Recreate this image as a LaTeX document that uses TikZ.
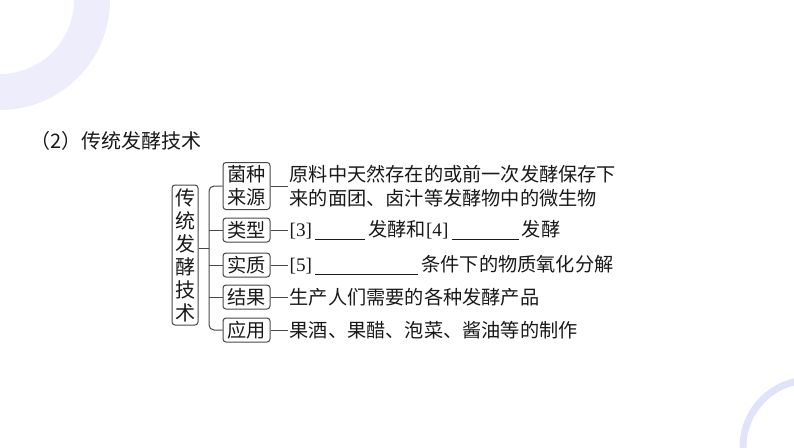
\documentclass[tikz,border=0pt]{standalone}
\usepackage{fontspec}
\setmainfont{Noto Sans CJK SC}
\newfontfamily\latf{Liberation Serif}
\definecolor{ringA}{RGB}{237,237,251}
\definecolor{ringB}{RGB}{224,227,249}
\definecolor{linec}{RGB}{70,70,70}
\definecolor{txt}{RGB}{25,25,25}
\newcommand\fillin[1]{\rule[-3pt]{#1}{0.9pt}}
\begin{document}
\begin{tikzpicture}[x=1pt,y=-1pt,
  box/.style={draw=linec,line width=1pt,rounded corners=3pt,inner sep=0pt,
    minimum width=47pt,minimum height=24pt,align=center,text=txt,
    font=\fontsize{19.2}{23}\selectfont},
  conn/.style={draw=linec,line width=1pt},
  rowtxt/.style={anchor=west,inner xsep=2pt,inner ysep=0pt,align=left,text=txt,
    font=\fontsize{19.2}{24}\selectfont}]
\useasboundingbox (0,0) rectangle (794,447);
\begin{scope}
  \clip (0,0) rectangle (794,447);
  \fill[ringA,even odd rule] (0,0) circle[radius=110pt] (0,0) circle[radius=74pt];
  \draw[ringB,line width=7pt] (810,447) circle[radius=67pt];
\end{scope}
\node[anchor=west,inner sep=0pt,text=txt,font=\fontsize{20}{24}\selectfont] (title) at (30,141) {（2）传统发酵技术};
\node[box,minimum width=26pt,minimum height=140pt,font=\fontsize{20}{23}\selectfont] (main) at (185,255) {传\\统\\发\\酵\\技\\术};
\node[box,minimum height=47pt] (k1) at (246.5,186) {菌种\\来源};
\node[box] (k2) at (246.5,230) {类型};
\node[box] (k3) at (246.5,265) {实质};
\node[box] (k4) at (246.5,297) {结果};
\node[box] (k5) at (246.5,330) {应用};
\coordinate (bx) at (209,248);
\draw[conn,rounded corners=5pt] (k1.west) -| (bx) |- (k5.west);
\draw[conn] (main.east |- bx) -- (bx);
\draw[conn] (bx |- k2.west) -- (k2.west);
\draw[conn] (bx |- k3.west) -- (k3.west);
\draw[conn] (bx |- k4.west) -- (k4.west);
\node[rowtxt] (t1) at ([xshift=17pt]k1.east) {原料中天然存在的或前一次发酵保存下\\来的面团、卤汁等发酵物中的微生物};
\node[rowtxt] (t2) at ([xshift=17pt]k2.east) {{\latf [3]}\,\fillin{50pt}\,发酵和{\latf [4]}\,\fillin{67pt}\,发酵};
\node[rowtxt] (t3) at ([xshift=17pt]k3.east) {{\latf [5]}\,\fillin{103pt}\,条件下的物质氧化分解};
\node[rowtxt] (t4) at ([xshift=17pt]k4.east) {生产人们需要的各种发酵产品};
\node[rowtxt] (t5) at ([xshift=17pt]k5.east) {果酒、果醋、泡菜、酱油等的制作};
\foreach \i in {1,...,5} { \draw[conn] (k\i.east) -- (t\i.west); }
\end{tikzpicture}
\end{document}
